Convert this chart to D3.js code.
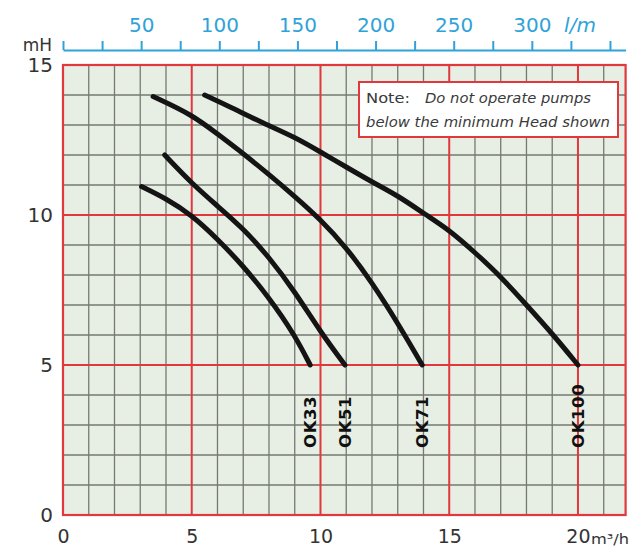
<!DOCTYPE html>
<html>
<head>
<meta charset="utf-8">
<script src="https://cdn.jsdelivr.net/npm/d3@7"></script>
<style>
  body { margin: 0; background: #fff; }
  svg { display: block; }
</style>
</head>
<body>
<svg id="chart" width="643" height="550"></svg>
<script>
// pump curves, flow in m3/h, head in m
const pumps = ["OK33", "OK51", "OK71", "OK100"];
const flowOK33 = [3.05, 4, 5, 6, 7, 8, 9, 9.6];
const headOK33 = [10.95, 10.55, 10.0, 9.2, 8.3, 7.25, 6.0, 5.0];
const flowOK51 = [3.95, 5, 6, 7, 8, 9, 10, 10.95];
const headOK51 = [12.0, 11.05, 10.3, 9.55, 8.6, 7.45, 6.1, 5.0];
const flowOK71 = [3.5, 5, 6, 7, 8, 9, 10, 11, 12, 13, 13.95];
const headOK71 = [13.95, 13.35, 12.7, 12.05, 11.35, 10.62, 9.85, 8.92, 7.75, 6.4, 5.0];
const flowOK100 = [5.5, 6.5, 7.8, 9, 10, 11, 12, 13, 14.1, 15, 16, 17, 18, 19, 20];
const headOK100 = [14.0, 13.6, 13.05, 12.6, 12.1, 11.6, 11.1, 10.65, 10.0, 9.5, 8.75, 7.95, 7.0, 6.05, 5.0];

const headTicks = [0, 5, 10, 15];
const flowTicks = [0, 5, 10, 15, 20];
const lpmTicks = [0, 25, 50, 75, 100, 125, 150, 175, 200, 225, 250, 275, 300, 325, 350];
const lpmLabels = [50, 100, 150, 200, 250, 300];
const noteLines = ["Note:", "Do not operate pumps", "below the minimum Head shown"];

const flows = [flowOK33, flowOK51, flowOK71, flowOK100];
const heads = [headOK33, headOK51, headOK71, headOK100];

const red = "#e0383d", blue = "#2fa3d8", ink = "#333";
const font = "DejaVu Sans, sans-serif";

const svg = d3.select("#chart");

const x = d3.scaleLinear().domain([0, 21.85]).range([63, 625.6]);
const y = d3.scaleLinear().domain([0, 15]).range([515, 65]);
const xl = d3.scaleLinear().domain([0, 360]).range([63, 625.6]); // l/min

// plot background
svg.append("rect")
  .attr("x", x(0)).attr("y", y(15))
  .attr("width", x(21.85) - x(0)).attr("height", y(0) - y(15))
  .attr("fill", "#e7eee4");

// minor grid
const minorX = d3.range(1, 22).filter(d => d % 5 !== 0);
const minorY = d3.range(1, 15).filter(d => d % 5 !== 0);
svg.append("g").selectAll("line").data(minorX).join("line")
  .attr("x1", d => x(d)).attr("x2", d => x(d))
  .attr("y1", y(0)).attr("y2", y(15))
  .attr("stroke", "#747a72").attr("stroke-width", 1.3);
svg.append("g").selectAll("line").data(minorY).join("line")
  .attr("x1", x(0)).attr("x2", x(21.85))
  .attr("y1", d => y(d)).attr("y2", d => y(d))
  .attr("stroke", "#747a72").attr("stroke-width", 1.3);

// major grid
svg.append("g").selectAll("line").data([5, 10, 15, 20]).join("line")
  .attr("x1", d => x(d)).attr("x2", d => x(d))
  .attr("y1", y(0)).attr("y2", y(15))
  .attr("stroke", red).attr("stroke-width", 2);
svg.append("g").selectAll("line").data([5, 10]).join("line")
  .attr("x1", x(0)).attr("x2", x(21.85))
  .attr("y1", d => y(d)).attr("y2", d => y(d))
  .attr("stroke", red).attr("stroke-width", 2);
svg.append("rect")
  .attr("x", x(0)).attr("y", y(15))
  .attr("width", x(21.85) - x(0)).attr("height", y(0) - y(15))
  .attr("fill", "none").attr("stroke", red).attr("stroke-width", 2.2);

// note box
const note = svg.append("g");
note.append("rect")
  .attr("x", 359).attr("y", 82).attr("width", 259).attr("height", 55)
  .attr("fill", "#fff").attr("stroke", red).attr("stroke-width", 2);
note.append("text").attr("x", 366).attr("y", 103)
  .attr("font-size", 14.5).attr("font-family", font).attr("fill", "#3a3a3a")
  .attr("textLength", 44).attr("lengthAdjust", "spacingAndGlyphs")
  .text(noteLines[0]);
note.append("text").attr("x", 425).attr("y", 103)
  .attr("font-size", 14.5).attr("font-family", font).attr("font-style", "italic").attr("fill", "#3a3a3a")
  .attr("textLength", 166).attr("lengthAdjust", "spacingAndGlyphs")
  .text(noteLines[1]);
note.append("text").attr("x", 366).attr("y", 127)
  .attr("font-size", 14.5).attr("font-family", font).attr("font-style", "italic").attr("fill", "#3a3a3a")
  .attr("textLength", 244).attr("lengthAdjust", "spacingAndGlyphs")
  .text(noteLines[2]);

// curves
const line = d3.line()
  .x(d => x(d[0])).y(d => y(d[1]))
  .curve(d3.curveBasis);

pumps.forEach((name, i) => {
  const pts = flows[i].map((q, j) => [q, heads[i][j]]);
  svg.append("path")
    .datum(pts)
    .attr("d", line)
    .attr("fill", "none")
    .attr("stroke", "#141414")
    .attr("stroke-width", 5)
    .attr("stroke-linecap", "round");

  const last = pts[pts.length - 1];
  svg.append("text")
    .attr("transform", `translate(${x(last[0])},448) rotate(-90)`)
    .attr("dy", "0.36em")
    .attr("font-family", font)
    .attr("font-weight", "bold")
    .attr("font-size", 16.5)
    .attr("letter-spacing", 0.6)
    .attr("fill", "#111")
    .text(name);
});

// left axis
const ga = svg.append("g")
  .attr("transform", `translate(${x(0)},0)`)
  .call(d3.axisLeft(y).tickValues(headTicks).tickSize(0).tickPadding(10));
ga.select(".domain").remove();
ga.selectAll("text").attr("font-size", 20).attr("font-family", font).attr("fill", ink);

svg.append("text")
  .attr("x", 52).attr("y", 51)
  .attr("text-anchor", "end")
  .attr("font-size", 17).attr("font-family", font).attr("fill", ink)
  .text("mH");

// bottom axis
const gb = svg.append("g")
  .attr("transform", `translate(0,${y(0)})`)
  .call(d3.axisBottom(x).tickValues(flowTicks).tickSize(0).tickPadding(15));
gb.select(".domain").remove();
gb.selectAll("text").attr("font-size", 19).attr("font-family", font).attr("fill", ink);

svg.append("text")
  .attr("x", 591).attr("y", 544)
  .attr("font-size", 14).attr("font-family", font).attr("fill", ink)
  .attr("textLength", 38).attr("lengthAdjust", "spacingAndGlyphs")
  .text("m³/h");

// top axis, litres per minute
const gt = svg.append("g")
  .attr("transform", "translate(0,50)")
  .call(d3.axisTop(xl).tickValues(lpmTicks).tickSize(9).tickSizeOuter(0).tickPadding(9)
    .tickFormat(d => lpmLabels.includes(d) ? d : ""));
gt.select(".domain").attr("stroke", blue).attr("stroke-width", 2.2);
gt.selectAll(".tick line").attr("stroke", blue).attr("stroke-width", 2);
gt.selectAll("text").attr("font-size", 20).attr("font-family", font).attr("fill", blue);

svg.append("text")
  .attr("x", 580).attr("y", 32)
  .attr("text-anchor", "middle")
  .attr("font-size", 20).attr("font-family", font).attr("font-style", "italic").attr("fill", blue)
  .text("l/m");
</script>
</body>
</html>
